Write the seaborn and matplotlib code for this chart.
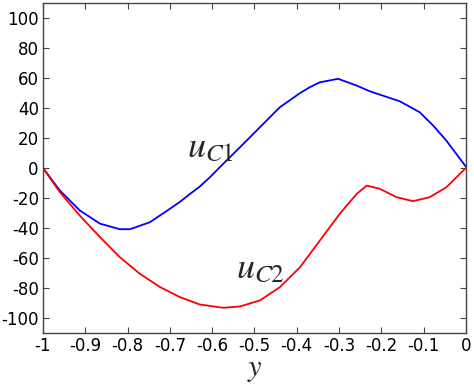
import pandas as pd
import seaborn as sns
import matplotlib.pyplot as plt

# Curve u_C1 (blue)
y_c1 = [-1.000, -0.960, -0.913, -0.865, -0.818, -0.794, -0.747, -0.700, -0.676, -0.652,
        -0.629, -0.605, -0.582, -0.558, -0.534, -0.487, -0.440, -0.392, -0.369, -0.345,
        -0.302, -0.258, -0.227, -0.156, -0.109, -0.077, -0.046, 0.000]
u_c1 = [0, -15, -28.3, -37.1, -40.8, -40.8, -36.1, -27.2, -22.5, -17.2,
        -12.3, -6.1, 0.5, 7.2, 13.9, 27.2, 40.5, 50, 53.9, 57.2,
        59.5, 55, 51.2, 44.5, 37.2, 28.3, 18.3, 1]

# Curve u_C2 (red)
y_c2 = [-1.000, -0.960, -0.913, -0.865, -0.818, -0.771, -0.723, -0.676, -0.629, -0.574,
        -0.534, -0.487, -0.440, -0.392, -0.345, -0.298, -0.258, -0.234, -0.203, -0.164,
        -0.125, -0.085, -0.046, 0.000]
u_c2 = [0, -16.1, -31.7, -46.1, -59.5, -70.5, -79.4, -86.1, -91, -93.2,
        -92.3, -88.3, -79.5, -66.1, -48.3, -30.5, -17.2, -11.7, -13.9, -19.4,
        -22.1, -19.4, -12.8, 0]

x_ticks = [-1, -0.9, -0.8, -0.7, -0.6, -0.5, -0.4, -0.3, -0.2, -0.1, 0]
x_labels = ["-1", "-0.9", "-0.8", "-0.7", "-0.6", "-0.5", "-0.4", "-0.3", "-0.2", "-0.1", "0"]
y_ticks = [-100, -80, -60, -40, -20, 0, 20, 40, 60, 80, 100]

sns.set_style("ticks")
plt.rcParams["mathtext.fontset"] = "stix"
plt.rcParams["axes.unicode_minus"] = False

fig = plt.figure(figsize=(4.74, 3.89), dpi=100)
ax = fig.add_axes([0.0907, 0.144, 0.892, 0.848])

sns.lineplot(x=y_c1, y=u_c1, color="#0000ff", linewidth=1.3, ax=ax)
sns.lineplot(x=y_c2, y=u_c2, color="#ff0000", linewidth=1.3, ax=ax)

ax.set_xlim(-1, 0)
ax.set_ylim(-110, 110)
ax.set_xticks(x_ticks)
ax.set_xticklabels(x_labels)
ax.set_yticks(y_ticks)
ax.tick_params(direction="in", length=4, width=0.8, top=True, right=True,
               labelsize=12, colors="#444444", labelcolor="black", pad=3)
for s in ax.spines.values():
    s.set_color("#444444")
    s.set_linewidth(1)

ax.set_xlabel("$y$", fontsize=22, labelpad=0)
ax.text(-0.603, 13.7, "$u_{C1}$", fontsize=26, ha="center", va="center")
ax.text(-0.485, -67, "$u_{C2}$", fontsize=26, ha="center", va="center")

fig.savefig("out.png", dpi=100)
